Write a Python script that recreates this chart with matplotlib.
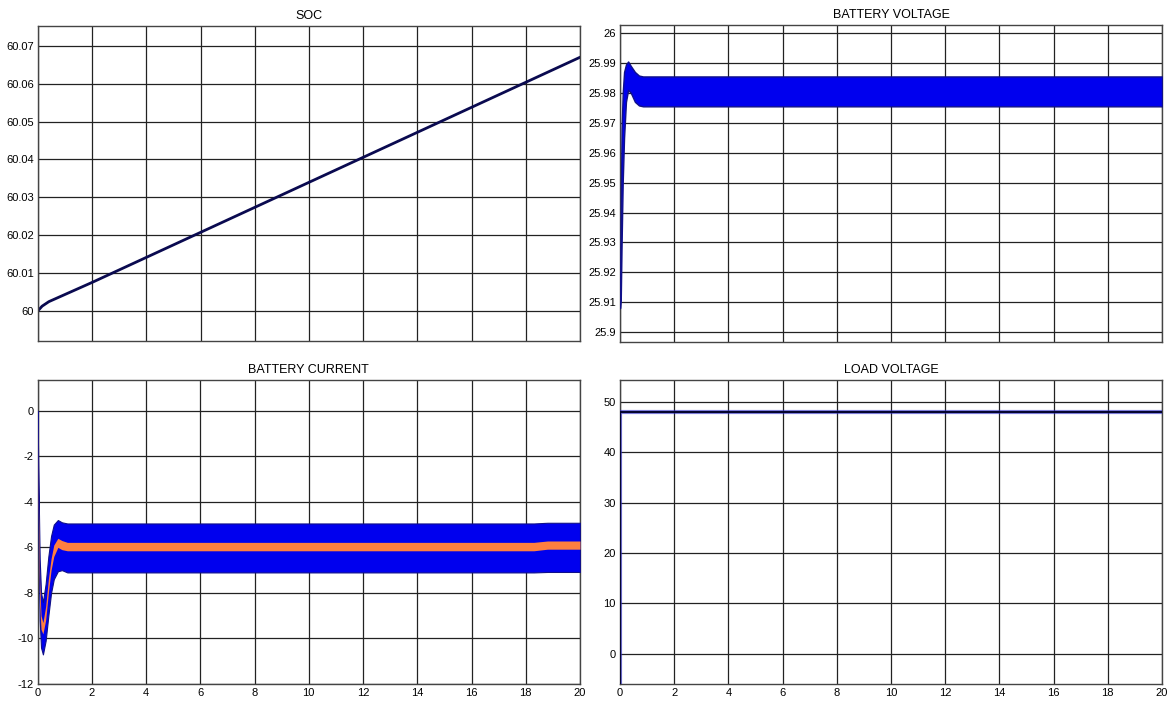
import matplotlib
matplotlib.use("Agg")
import matplotlib.pyplot as plt

plt.rcParams['font.family'] = ['Liberation Sans Narrow', 'Liberation Sans', 'DejaVu Sans']
plt.rcParams['axes.unicode_minus'] = False

# ---- data ----
# SOC (%)
soc_t = [0, 0.15, 0.4, 2, 20]
soc_v = [60.0, 60.0012, 60.0024, 60.0075, 60.067]

# Battery voltage envelope (V)
bv_t = [0, 0.03, 0.06, 0.1, 0.15, 0.22, 0.3, 0.4, 0.55, 0.7, 0.85, 1.0, 20]
bv_hi = [25.908, 25.945, 25.968, 25.980, 25.987, 25.9895, 25.9905, 25.989, 25.987, 25.9858, 25.9855, 25.9855, 25.9855]
bv_lo = [25.908, 25.912, 25.930, 25.950, 25.965, 25.977, 25.981, 25.980, 25.977, 25.9758, 25.9755, 25.9755, 25.9755]

# Battery current envelope (A): blue ripple band and orange average band
bc_t = [0, 0.04, 0.08, 0.13, 0.2, 0.3, 0.4, 0.5, 0.6, 0.75, 0.9, 1.1, 18.3, 18.8, 20]
bc_hi = [0, -3.5, -6.5, -8.0, -8.4, -7.6, -6.4, -5.5, -5.0, -4.8, -4.9, -4.95, -4.95, -4.92, -4.92]
bc_lo = [0, -6.0, -9.2, -10.4, -10.7, -10.1, -9.0, -8.0, -7.4, -7.05, -7.0, -7.1, -7.1, -7.08, -7.08]
avg_hi = [0, -4.5, -7.5, -9.0, -9.3, -8.6, -7.4, -6.5, -5.9, -5.6, -5.7, -5.78, -5.78, -5.72, -5.72]
avg_lo = [0, -5.5, -8.5, -9.6, -9.8, -9.2, -8.0, -7.0, -6.4, -6.0, -6.1, -6.15, -6.15, -6.08, -6.08]

# Load voltage (V)
lv_t = [0, 0.0, 20]
lv_v = [-6, 48, 48]

xticks = list(range(0, 21, 2))
W, H = 1172, 706

def make_ax(fig, left, top, right, bottom):
    return fig.add_axes([left / W, 1 - bottom / H, (right - left) / W, (bottom - top) / H])

def style(ax, title, show_x):
    ax.set_title(title, fontsize=9, pad=5)
    ax.set_xlim(0, 20)
    ax.set_xticks(xticks)
    ax.grid(True, color='#222222', linewidth=0.9)
    ax.tick_params(length=0, labelsize=8, pad=3)
    for s in ax.spines.values():
        s.set_color('#444444')
        s.set_linewidth(1.0)
    if not show_x:
        ax.set_xticklabels([])

fig = plt.figure(figsize=(W / 100, H / 100), dpi=100)

# SOC
ax1 = make_ax(fig, 38, 25.5, 580, 341)
ax1.plot(soc_t, soc_v, color='#0a0a50', linewidth=2)
ax1.set_ylim(59.992, 60.0754)
ax1.set_yticks([60, 60.01, 60.02, 60.03, 60.04, 60.05, 60.06, 60.07])
ax1.set_yticklabels(['60', '60.01', '60.02', '60.03', '60.04', '60.05', '60.06', '60.07'])
style(ax1, 'SOC', False)

# Battery voltage
ax2 = make_ax(fig, 620, 25, 1162, 342)
ax2.fill_between(bv_t, bv_lo, bv_hi, color='#0000ee', edgecolor='#10108a', linewidth=1.0, zorder=3)
ax2.set_ylim(25.8967, 26.0027)
ax2.set_yticks([25.9, 25.91, 25.92, 25.93, 25.94, 25.95, 25.96, 25.97, 25.98, 25.99, 26.0])
ax2.set_yticklabels(['25.9', '25.91', '25.92', '25.93', '25.94', '25.95', '25.96',
                     '25.97', '25.98', '25.99', '26'])
style(ax2, 'BATTERY VOLTAGE', False)

# Battery current
ax3 = make_ax(fig, 37.5, 380, 580, 684)
ax3.fill_between(bc_t, bc_lo, bc_hi, color='#0000ee', edgecolor='#10108a', linewidth=0.8, zorder=3)
ax3.fill_between(bc_t, avg_lo, avg_hi, color='#ff7f3f', linewidth=0, zorder=4)
ax3.set_ylim(-12, 1.35)
ax3.set_yticks([0, -2, -4, -6, -8, -10, -12])
style(ax3, 'BATTERY CURRENT', True)

# Load voltage
ax4 = make_ax(fig, 620, 380, 1162, 684)
ax4.plot(lv_t, lv_v, color='#3030d0', linewidth=3.0, alpha=0.6, zorder=3)
ax4.plot(lv_t, lv_v, color='#050530', linewidth=1.5, zorder=4)
ax4.set_ylim(-6, 54.4)
ax4.set_yticks([0, 10, 20, 30, 40, 50])
style(ax4, 'LOAD VOLTAGE', True)

fig.savefig('out.png', dpi=100)
